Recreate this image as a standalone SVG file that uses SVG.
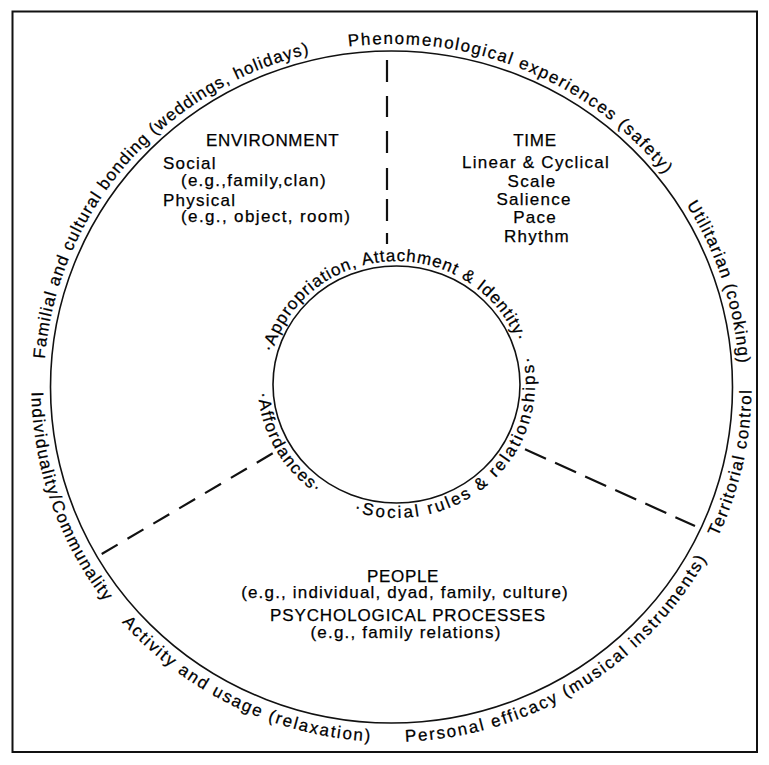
<svg xmlns="http://www.w3.org/2000/svg" width="769" height="765" viewBox="0 0 769 765">
<style>
text{font-family:"Liberation Sans",Arial,Helvetica,sans-serif;font-size:17px;fill:#000;stroke:#000;stroke-width:0.25}
.ring{fill:none;stroke:#111;stroke-width:1.6}
.dash{fill:none;stroke:#111;stroke-width:2.2}
.b{letter-spacing:1.25px}
.c{letter-spacing:0.7px}
.m{text-anchor:middle}
</style>
<defs>
<path id="p1" d="M44.7,358.9 A348,343 0 0 1 391.5,44"/>
<path id="p2" d="M348.5,46.6 A348,343 0 0 1 718.5,269.7"/>
<path id="p3" d="M686.4,204.7 A348,343 0 0 1 738.2,416.9"/>
<path id="p4" d="M717.8,537 A360,355 0 0 0 746,325.4"/>
<path id="p5" d="M405.3,741.7 A360,355 0 0 0 739.2,478.9"/>
<path id="p6" d="M121.9,622.2 A360,355 0 0 0 422.9,740.6"/>
<path id="p7" d="M31.5,392 A360,355 0 0 0 136.9,638"/>
<path id="pa" d="M272.4,352.5 A128.5,123.5 0 0 1 523,363.1"/>
<path id="pb" d="M353.9,511.5 A138.5,133.5 0 0 0 526.6,338.8"/>
<path id="pc" d="M258.3,392.9 A138.5,133.5 0 0 0 338,505.5"/>
</defs>
<rect x="12.5" y="11.5" width="744.5" height="740.5" fill="none" stroke="#111" stroke-width="2"/>
<g id="outer-ring"><ellipse class="ring" cx="391.5" cy="387" rx="341" ry="336"/></g>
<g id="inner-ring"><ellipse class="ring" cx="396.5" cy="384.5" rx="123.5" ry="118.5"/></g>
<g id="connectors">
<path class="dash" d="M387,60V82M387,96V117M387,131V153M387,168V190M387,199V221M387,233V244"/>
<line class="dash" x1="272.7" y1="453.3" x2="101.7" y2="554" stroke-dasharray="18.5 11.5"/>
<line class="dash" x1="525" y1="449.3" x2="695" y2="526" stroke-dasharray="23 10"/>
</g>
<g id="environment">
<text class="c" x="206" y="146">ENVIRONMENT</text>
<text class="b" x="163" y="169">Social</text>
<text class="b" x="181" y="186">(e.g.,family,clan)</text>
<text class="b" x="163" y="206">Physical</text>
<text class="b" x="181" y="222" style="letter-spacing:1.38px">(e.g., object, room)</text>
</g>
<g id="time">
<text class="c m" x="535" y="146">TIME</text>
<text class="b m" x="536" y="168">Linear &amp; Cyclical</text>
<text class="b m" x="532" y="187">Scale</text>
<text class="b m" x="534" y="205">Salience</text>
<text class="b m" x="535" y="223">Pace</text>
<text class="b m" x="537" y="242">Rhythm</text>
</g>
<g id="people">
<text class="c m" x="403" y="582">PEOPLE</text>
<text class="m" x="405" y="598" style="letter-spacing:1.18px">(e.g., individual, dyad, family, culture)</text>
<text class="m" x="408" y="621" style="letter-spacing:0.9px">PSYCHOLOGICAL PROCESSES</text>
<text class="m" x="406" y="638" style="letter-spacing:1.19px">(e.g., family relations)</text>
</g>
<g id="outer-labels">
<text style="letter-spacing:1.12px"><textPath href="#p1">Familial and cultural bonding (weddings, holidays)</textPath></text>
<text style="letter-spacing:1.61px"><textPath href="#p2">Phenomenological experiences (safety)</textPath></text>
<text style="letter-spacing:1.15px"><textPath href="#p3">Utilitarian (cooking)</textPath></text>
<text style="letter-spacing:1.44px"><textPath href="#p4">Territorial control</textPath></text>
<text style="letter-spacing:1.89px"><textPath href="#p5">Personal efficacy (musical instruments)</textPath></text>
<text style="letter-spacing:1.81px"><textPath href="#p6">Activity and usage (relaxation)</textPath></text>
<text style="letter-spacing:1.37px"><textPath href="#p7">Individuality/Communality</textPath></text>
</g>
<g id="inner-labels">
<text style="letter-spacing:0.97px"><textPath href="#pa">·Appropriation, Attachment &amp; Identity·</textPath></text>
<text style="letter-spacing:2.38px"><textPath href="#pb">·Social rules &amp; relationships·</textPath></text>
<text style="letter-spacing:1.5px"><textPath href="#pc">·Affordances·</textPath></text>
</g>
</svg>
